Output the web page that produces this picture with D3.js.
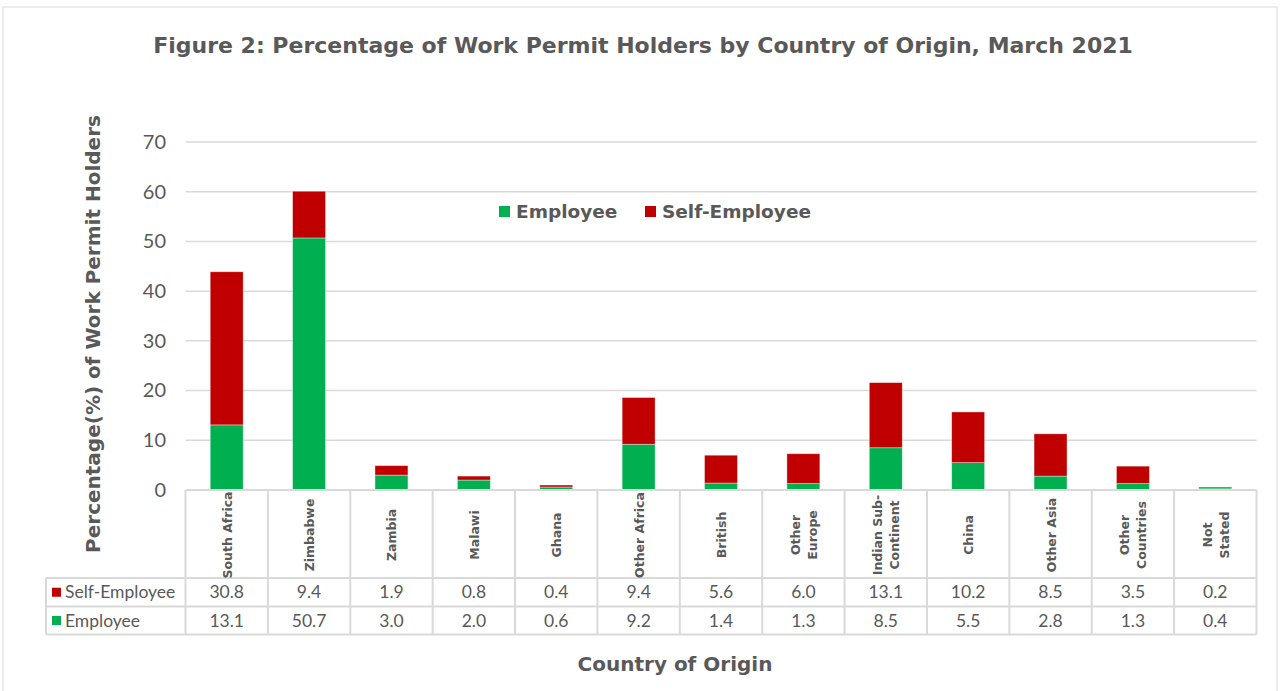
<!DOCTYPE html>
<html><head><meta charset="utf-8">
<script src="https://cdn.jsdelivr.net/npm/d3@7"></script>
<style>body{margin:0;background:#fff;} svg{display:block;font-family:"Lato","Open Sans",sans-serif;}</style>
</head><body>
<svg id="c" width="1284" height="691"></svg>
<script>
const categories = ["South Africa","Zimbabwe","Zambia","Malawi","Ghana","Other Africa","British","Other Europe","Indian Sub-Continent","China","Other Asia","Other Countries","Not Stated"];
const categoryLines = [["South Africa"],["Zimbabwe"],["Zambia"],["Malawi"],["Ghana"],["Other Africa"],["British"],["Other","Europe"],["Indian Sub-","Continent"],["China"],["Other Asia"],["Other","Countries"],["Not","Stated"]];
const employee = [13.1,50.7,3.0,2.0,0.6,9.2,1.4,1.3,8.5,5.5,2.8,1.3,0.4];
const selfEmployee = [30.8,9.4,1.9,0.8,0.4,9.4,5.6,6.0,13.1,10.2,8.5,3.5,0.2];
const yTicks = [0,10,20,30,40,50,60,70];
const seriesNames = ["Employee","Self-Employee"];
const colors = {"Employee":"#00B050","Self-Employee":"#C00000"};

const svg = d3.select("#c");
const textCol = "#595959", gridCol = "#d9d9d9";
const boldFont = "'DejaVu Sans', sans-serif";
const L = 185.5, R = 1256.5, Y0 = 490, Y70 = 142;
const x = d3.scaleBand().domain(categories).range([L,R]).paddingInner(0.6).paddingOuter(0.3);
const xCell = d3.scaleBand().domain(categories).range([L,R]);
const y = d3.scaleLinear().domain([0,70]).range([Y0,Y70]);

// outer border
svg.append("rect").attr("x",3).attr("y",7).attr("width",1274).attr("height",690).attr("fill","none").attr("stroke","#d9d9d9").attr("stroke-width",1);

// title
svg.append("text").attr("x",643).attr("y",53).attr("text-anchor","middle").attr("font-size",22).attr("font-weight","bold").attr("font-family",boldFont).attr("fill",textCol)
  .text("Figure 2: Percentage of Work Permit Holders by Country of Origin, March 2021");

// gridlines
svg.append("g").selectAll("line").data(yTicks.filter(d=>d>0)).join("line")
  .attr("x1",L).attr("x2",R).attr("y1",d=>y(d)).attr("y2",d=>y(d)).attr("stroke",gridCol).attr("stroke-width",1.5);

// y axis labels
const yAxis = d3.axisLeft(y).tickValues(yTicks).tickSize(0).tickPadding(0);
const ga = svg.append("g").attr("transform",`translate(166,0)`).call(yAxis);
ga.select(".domain").remove();
ga.selectAll("text").attr("font-size",20).attr("fill",textCol).attr("font-family","Lato, 'Open Sans', sans-serif");

// y axis title
svg.append("text").attr("transform","translate(100,334) rotate(-90)").attr("text-anchor","middle").attr("font-size",20).attr("font-weight","bold").attr("font-family",boldFont).attr("fill",textCol)
  .text("Percentage(%) of Work Permit Holders");

// stacked bars
const rows = categories.map((c,i)=>({cat:c,"Employee":employee[i],"Self-Employee":selfEmployee[i]}));
const stack = d3.stack().keys(seriesNames)(rows);
svg.append("g").selectAll("g").data(stack).join("g").attr("fill",d=>colors[d.key])
  .selectAll("rect").data(d=>d).join("rect")
  .attr("x",d=>x(d.data.cat)).attr("width",x.bandwidth())
  .attr("y",d=>y(d[1])).attr("height",d=>y(d[0])-y(d[1]))
  .attr("stroke","#fff").attr("stroke-opacity",0.5).attr("stroke-width",0.75);

// legend
const leg = svg.append("g");
[[499,"Employee"],[645,"Self-Employee"]].forEach(([lx,name])=>{
  leg.append("rect").attr("x",lx).attr("y",206).attr("width",11).attr("height",11).attr("fill",colors[name]);
  leg.append("text").attr("x",lx+17).attr("y",218).attr("font-size",18.5).attr("font-weight","bold").attr("font-family",boldFont).attr("fill",textCol).text(name);
});

// data table
const T0 = 490, T1 = 578, T2 = 606.5, T3 = 634.5, TL = 46;
const tb = svg.append("g").attr("stroke",gridCol).attr("stroke-width",2);
tb.append("line").attr("x1",L).attr("x2",R).attr("y1",T0).attr("y2",T0);
[T1,T2,T3].forEach(v=>tb.append("line").attr("x1",TL).attr("x2",R).attr("y1",v).attr("y2",v));
tb.append("line").attr("x1",TL).attr("x2",TL).attr("y1",T1).attr("y2",T3);
categories.forEach(c=>tb.append("line").attr("x1",xCell(c)).attr("x2",xCell(c)).attr("y1",T0).attr("y2",T3));
tb.append("line").attr("x1",R).attr("x2",R).attr("y1",T0).attr("y2",T3);

// category labels (rotated)
categories.forEach((c,i)=>{
  const cx = xCell(c)+xCell.bandwidth()/2;
  const lines = categoryLines[i];
  const n = lines.length;
  const t = svg.append("text").attr("transform",`translate(${cx},535) rotate(-90)`).attr("text-anchor","middle")
    .attr("font-size",12.5).attr("font-weight","bold").attr("font-family",boldFont).attr("fill",textCol);
  lines.forEach((ln,j)=>{
    t.append("tspan").attr("x",0).attr("y",(j-(n-1)/2)*17+5).text(ln);
  });
});

// table values
const tableRows = [["Self-Employee",selfEmployee,T1,T2],["Employee",employee,T2,T3]];
tableRows.forEach(([name,vals,a,b])=>{
  const cy = (a+b)/2;
  svg.append("rect").attr("x",52).attr("y",cy-4.5).attr("width",9).attr("height",9).attr("fill",colors[name]);
  svg.append("text").attr("x",65).attr("y",cy+6).attr("font-size",17.5).attr("fill",textCol).text(name);
  categories.forEach((c,i)=>{
    svg.append("text").attr("x",xCell(c)+xCell.bandwidth()/2).attr("y",cy+6).attr("text-anchor","middle")
      .attr("font-size",17.5).attr("fill",textCol).text(vals[i].toFixed(1));
  });
});

// x axis title
svg.append("text").attr("x",675).attr("y",671).attr("text-anchor","middle").attr("font-size",20).attr("font-weight","bold").attr("font-family",boldFont).attr("fill",textCol)
  .text("Country of Origin");
</script>
</body></html>
